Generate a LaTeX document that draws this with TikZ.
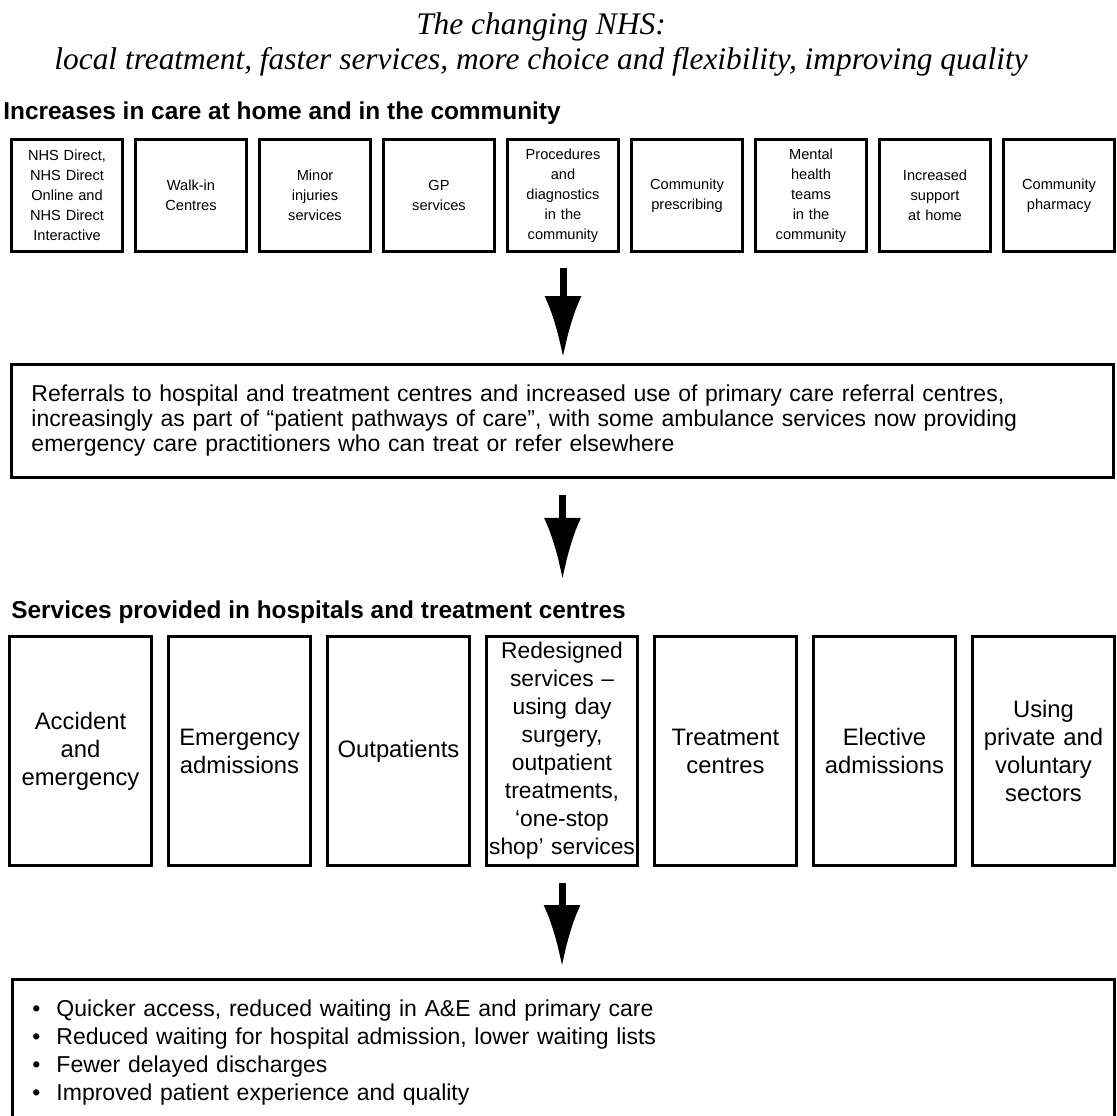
\documentclass[tikz,border=0pt]{standalone}
\usepackage{fontspec}
\setmainfont{Liberation Sans}
\newfontfamily\titlefont{Liberation Serif}
\usetikzlibrary{positioning,arrows.meta}

\begin{document}
\begin{tikzpicture}[x=0.5pt,y=-0.5pt,
  commbox/.style={rectangle, draw, line width=1.5pt, minimum width=55.5pt, minimum height=56pt, inner sep=0pt, text width=54pt, align=center, font=\fontsize{7.3}{10}\selectfont},
  hospbox/.style={rectangle, draw, line width=1.5pt, minimum width=71pt, minimum height=114.5pt, inner sep=0pt, text width=70pt, align=center, font=\fontsize{11.9}{14}\selectfont},
  widebox/.style={rectangle, draw, line width=1.5pt, minimum width=551pt, inner xsep=10pt, text width=531pt, align=left},
  heading/.style={anchor=base west, inner sep=0pt, font=\bfseries\fontsize{12.2}{14}\selectfont},
  bigarrow/.style={line width=3.5pt, -{Latex[length=31pt,width=18.5pt]}},
  ]
  \useasboundingbox (0,0) rectangle (1117,1115);
  \clip (0,0) rectangle (1117,1115);

  % title and headings
  \node[anchor=north, inner sep=0pt, align=center, font=\titlefont\itshape\fontsize{15.7}{17.5}\selectfont] (title) at (541,12)
    {The changing NHS:\\local treatment, faster services, more choice and flexibility, improving quality};
  \node[heading] (homehead) at (3,119) {Increases in care at home and in the community};

  % care at home and in the community
  \node[commbox] (nhsdirect) at (67,195.5) {NHS Direct,\\NHS Direct\\Online and\\NHS Direct\\Interactive};
  \node[commbox, right=5pt of nhsdirect] (walkin) {Walk-in\\Centres};
  \node[commbox, right=5pt of walkin] (minorinj) {Minor\\injuries\\services};
  \node[commbox, right=5pt of minorinj] (gpserv) {GP\\services};
  \node[commbox, right=5pt of gpserv] (procedures) {Procedures\\and\\diagnostics\\in the\\community};
  \node[commbox, right=5pt of procedures] (commpresc) {Community\\prescribing};
  \node[commbox, right=5pt of commpresc] (mentalhealth) {Mental\\health\\teams\\in the\\community};
  \node[commbox, right=5pt of mentalhealth] (homesupport) {Increased\\support\\at home};
  \node[commbox, right=5pt of homesupport] (pharmacy) {Community\\pharmacy};

  % referrals
  \node[widebox, minimum height=56.5pt, font=\fontsize{11.5}{12.5}\selectfont] (referral) at (562.5,421)
    {Referrals to hospital and treatment centres and increased use of primary care referral centres,\\
     increasingly as part of “patient pathways of care”, with some ambulance services now providing\\
     emergency care practitioners who can treat or refer elsewhere};

  % hospitals and treatment centres
  \node[heading] (hosphead) at (11,618) {Services provided in hospitals and treatment centres};
  \node[hospbox] (accident) at (80.5,751) {Accident\\and\\emergency};
  \node[hospbox, right=7pt of accident] (emergadm) {Emergency\\admissions};
  \node[hospbox, right=7pt of emergadm] (outpat) {Outpatients};
  \node[hospbox, right=7pt of outpat, minimum width=75.5pt, text width=75pt, font=\fontsize{11.4}{14}\selectfont] (redesigned)
    {Redesigned\\services –\\using day\\surgery,\\outpatient\\treatments,\\‘one-stop\\shop’~services};
  \node[hospbox, right=7pt of redesigned] (treatcentre) {Treatment\\centres};
  \node[hospbox, right=7pt of treatcentre] (elective) {Elective\\admissions};
  \node[hospbox, right=7pt of elective] (privsector) {Using\\private and\\voluntary\\sectors};

  % outcomes
  \node[widebox, anchor=north, inner ysep=10pt, font=\fontsize{11.5}{14}\selectfont] (outcomes) at (563.5,978)
    {\makebox[12pt][l]{\textbullet}Quicker access, reduced waiting in A\&E and primary care\\
     \makebox[12pt][l]{\textbullet}Reduced waiting for hospital admission, lower waiting lists\\
     \makebox[12pt][l]{\textbullet}Fewer delayed discharges\\
     \makebox[12pt][l]{\textbullet}Improved patient experience and quality};

  % arrows
  \draw[bigarrow, shorten <=7.5pt, shorten >=2.5pt] (procedures.south) -- (procedures.south |- referral.north);
  \draw[bigarrow, shorten <=8pt, shorten >=10pt] (referral.south) -- (referral.south |- hosphead.north);
  \draw[bigarrow, shorten <=8pt, shorten >=5.5pt] (redesigned.south) -- (redesigned.south |- outcomes.north);
\end{tikzpicture}
\end{document}
